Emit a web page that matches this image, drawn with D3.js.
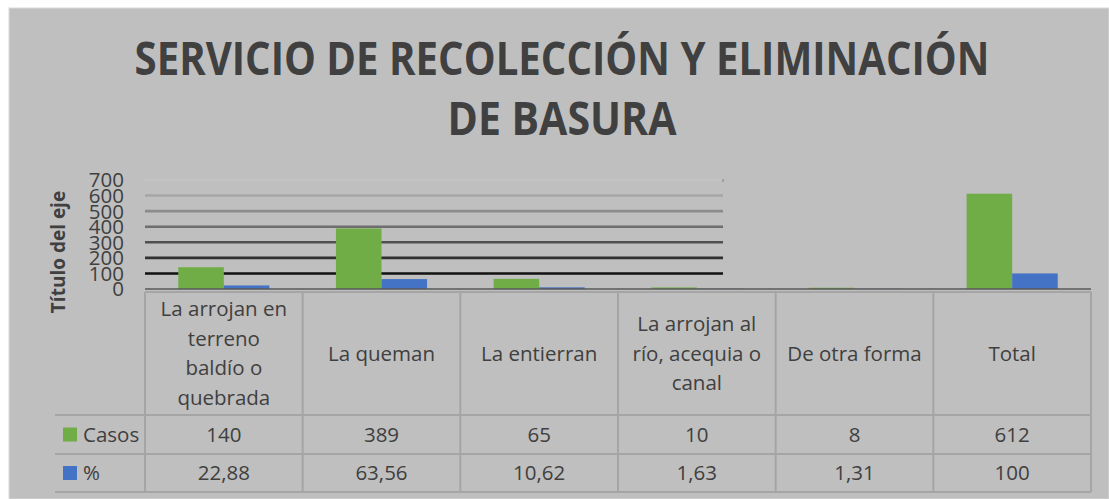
<!DOCTYPE html>
<html>
<head>
<meta charset="utf-8">
<script src="https://cdn.jsdelivr.net/npm/d3@7"></script>
<style>
  body { margin: 0; background: #fff; }
  text { font-family: "Open Sans", sans-serif; fill: #404040; }
</style>
</head>
<body>
<svg id="chart" width="1109" height="499"></svg>
<script>
// data (line breaks as in the chart's table)
var categories = ["La arrojan en\nterreno\nbaldío o\nquebrada", "La queman", "La entierran",
                  "La arrojan al\nrío, acequia o\ncanal", "De otra forma", "Total"];
var seriesNames = ["Casos", "%"];
var casos = [140, 389, 65, 10, 8, 612];
var pct = [22.88, 63.56, 10.62, 1.63, 1.31, 100];
var pctLabels = ["22,88", "63,56", "10,62", "1,63", "1,31", "100"];
var yTicks = [0, 100, 200, 300, 400, 500, 600, 700];
var titleLines = ["SERVICIO DE RECOLECCIÓN Y ELIMINACIÓN", "DE BASURA"];

var colors = {"Casos": "#70ad47", "%": "#4472c4"};
var gridColors = ["none", "#111111", "#303030", "#505050", "#6e6e6e", "#8c8c8c", "#a6a6a6", "#c9c9c9"];

var svg = d3.select("#chart");
var fs = "20.5px";

// gray panel
svg.append("rect").attr("x", 9).attr("y", 8).attr("width", 1100).attr("height", 491)
  .attr("fill", "#bfbfbf").attr("stroke", "#d9d9d9").attr("stroke-width", 1);

// title
svg.selectAll(".title").data(titleLines).enter().append("text")
  .attr("class", "title")
  .attr("x", 562)
  .attr("y", function(d, i) { return 75 + i * 60; })
  .attr("text-anchor", "middle")
  .attr("textLength", function(d, i) { return i == 0 ? 855 : 229; })
  .attr("lengthAdjust", "spacingAndGlyphs")
  .style("font-size", "47px").style("font-weight", "bold")
  .text(function(d) { return d; });

var x = d3.scaleBand().domain(categories).range([145, 1091]);
var bw = x.bandwidth();
var xs = d3.scaleBand().domain(seriesNames).range([bw * 0.211, bw * 0.789]);
var y = d3.scaleLinear().domain([0, 700]).range([289, 180]);

var gridRight = 723;

// gridlines
svg.append("g").selectAll("line").data(yTicks.slice(1)).enter().append("line")
  .attr("x1", 145).attr("x2", gridRight)
  .attr("y1", function(d) { return y(d); }).attr("y2", function(d) { return y(d); })
  .attr("stroke", function(d) { return gridColors[yTicks.indexOf(d)]; })
  .attr("stroke-width", function(d) { return d == 700 ? 1 : 2.6; });
svg.append("line").attr("x1", gridRight).attr("x2", gridRight)
  .attr("y1", y(700) - 1).attr("y2", y(700) + 2).attr("stroke", "#7f7f7f");

// y axis labels
var yAxis = svg.append("g").attr("transform", "translate(124,0)")
  .call(d3.axisLeft(y).tickValues(yTicks).tickSize(0).tickPadding(0));
yAxis.select(".domain").remove();
yAxis.selectAll("text").style("font-size", "20.5px").style("font-family", "Open Sans")
  .attr("fill", "#404040").attr("dy", "0.34em");

svg.append("text")
  .attr("transform", "translate(65,252) rotate(-90)")
  .attr("text-anchor", "middle")
  .style("font-size", "19px").style("font-weight", "bold")
  .text("Título del eje");

// bars
var rows = categories.map(function(c, i) { return {cat: c, vals: [casos[i], pct[i]]}; });
var groups = svg.append("g").selectAll("g").data(rows).enter().append("g")
  .attr("transform", function(d) { return "translate(" + x(d.cat) + ",0)"; });
groups.selectAll("rect").data(function(d) {
    return d.vals.map(function(v, j) { return {s: seriesNames[j], v: v}; });
  }).enter().append("rect")
  .attr("x", function(d) { return xs(d.s); })
  .attr("width", xs.bandwidth())
  .attr("y", function(d) { return y(d.v); })
  .attr("height", function(d) { return y(0) - y(d.v); })
  .attr("fill", function(d) { return colors[d.s]; });

// axis line
svg.append("line").attr("x1", 145).attr("x2", 1091).attr("y1", 289).attr("y2", 289)
  .attr("stroke", "#595959").attr("stroke-width", 1.5);

// data table
var tableTop = 292, row1 = 415, row2 = 454, row3 = 492;
var lineColor = "#a5a5a5";
var tbl = svg.append("g");
tbl.append("line").attr("x1", 145).attr("x2", 1091).attr("y1", tableTop).attr("y2", tableTop)
  .attr("stroke", lineColor).attr("stroke-width", 2);
[row1, row2, row3].forEach(function(ry) {
  tbl.append("line").attr("x1", 55).attr("x2", 1091).attr("y1", ry).attr("y2", ry)
    .attr("stroke", lineColor).attr("stroke-width", 2);
});
var bounds = categories.map(function(c) { return x(c); }).concat([x.range()[1]]);
tbl.selectAll(".vline").data(bounds).enter().append("line")
  .attr("x1", function(d) { return d; }).attr("x2", function(d) { return d; })
  .attr("y1", tableTop).attr("y2", row3)
  .attr("stroke", lineColor).attr("stroke-width", 2);

// category labels
var lh = 29.5;
categories.forEach(function(c) {
  var lines = c.split("\n");
  var t = tbl.append("text").attr("text-anchor", "middle").style("font-size", fs);
  var cy = (tableTop + row1) / 2;
  lines.forEach(function(l, i) {
    t.append("tspan").attr("x", x(c) + bw / 2)
      .attr("y", cy + (i - (lines.length - 1) / 2) * lh)
      .attr("dy", "0.35em").text(l);
  });
});

// value rows
var rowData = [{name: "Casos", labels: casos.map(String), y0: row1, y1: row2},
               {name: "%", labels: pctLabels, y0: row2, y1: row3}];
rowData.forEach(function(r) {
  var cy = (r.y0 + r.y1) / 2;
  tbl.append("rect").attr("x", 63).attr("y", cy - 7).attr("width", 14).attr("height", 14)
    .attr("fill", colors[r.name]);
  tbl.append("text").attr("x", 83).attr("y", cy).attr("dy", "0.35em")
    .style("font-size", fs).text(r.name);
  tbl.selectAll(null).data(r.labels).enter().append("text")
    .attr("x", function(d, i) { return x(categories[i]) + bw / 2; })
    .attr("y", cy).attr("dy", "0.35em")
    .attr("text-anchor", "middle").style("font-size", fs)
    .text(function(d) { return d; });
});
</script>
</body>
</html>
